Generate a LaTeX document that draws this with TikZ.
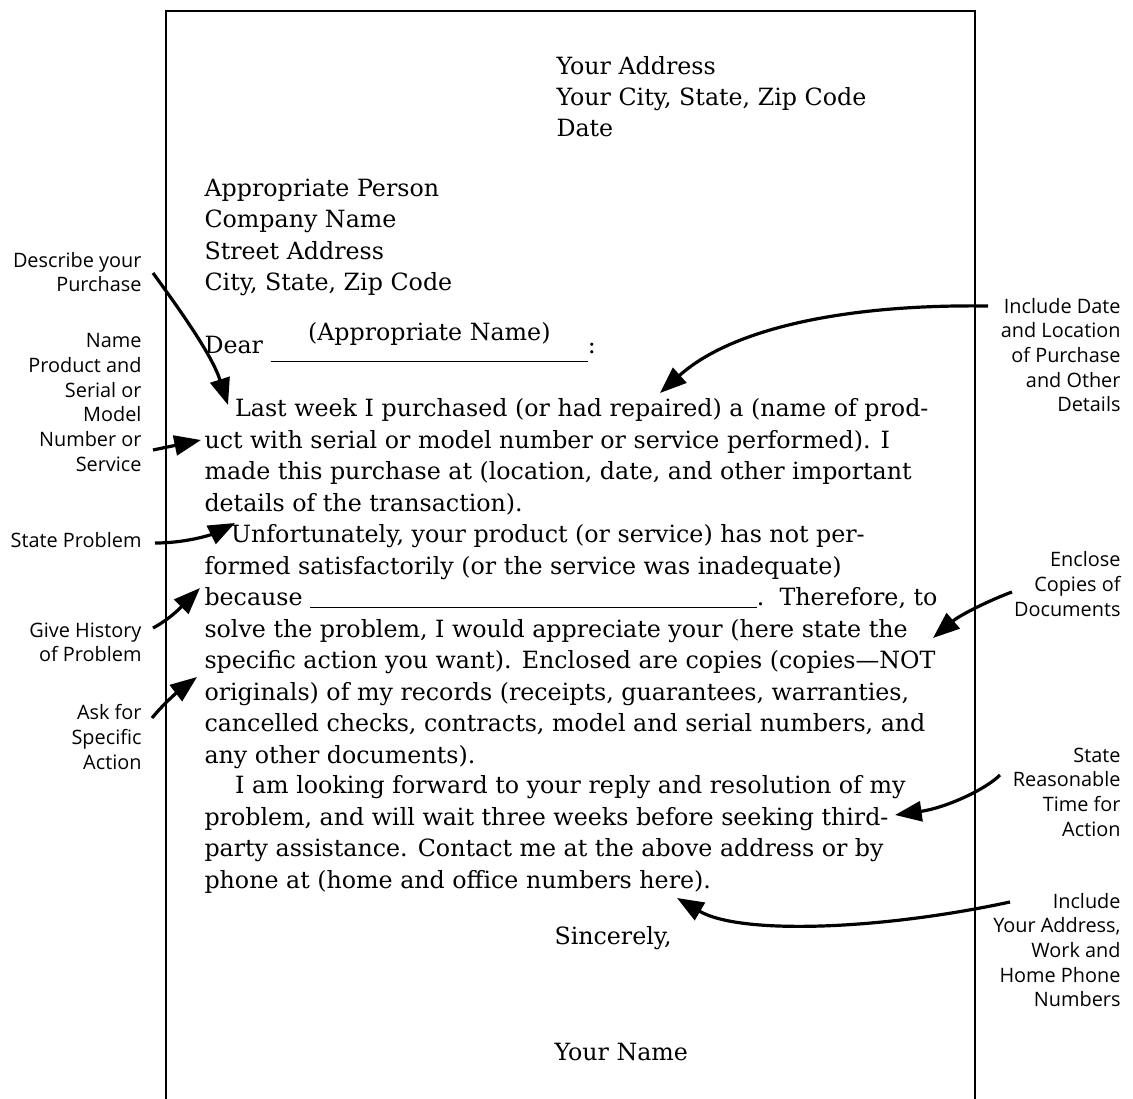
\documentclass[tikz,border=0pt]{standalone}
\usepackage{fontspec}
\setmainfont{DejaVu Serif}
\newfontfamily\notefamily{Open Sans}
\usetikzlibrary{arrows.meta,calc}

\tikzset{every picture/.style={line width=0.75pt}}
\tikzset{
  letter/.style={anchor=base west, inner sep=0pt, align=left, font=\fontsize{17.8}{23.625}\selectfont},
  note/.style={anchor=base east, inner sep=0pt, align=right, font=\notefamily\fontsize{14.9}{18.5}\selectfont},
  callout/.style={line width=2.4pt, -{Triangle[length=20pt,width=15pt]}}
}

\begin{document}
\begin{tikzpicture}[x=0.75pt,y=0.75pt,yscale=-1,xscale=1]
\useasboundingbox (0,0) rectangle (1133,1099);

%Shape: Page
\draw [line width=1.5pt] (166,1099) -- (166,11) -- (975,11) -- (975,1099);

% Text Node
\node [letter] (sender) at (556,137) {Your Address\\Your City, State, Zip Code\\Date};
% Text Node
\node [letter] (recipient) at (204,290.5) {Appropriate Person\\Company Name\\Street Address\\City, State, Zip Code};
% Text Node
\node [letter] (salutation) at (204,353) {Dear \makebox[0pt][l]{\raisebox{9.75pt}{\makebox[238pt]{(Appropriate Name)}}}\rule[-7pt]{238pt}{0.8pt}:};
% Text Node
\node [letter] (purchase) at (204,511) {\hspace*{23pt}Last week I purchased (or had repaired) a (name of prod-\\uct with serial or model number or service performed). I\\made this purchase at (location, date, and other important\\details of the transaction).};
% Text Node
\node [letter] (problem) at (204,763) {\hspace*{20pt}Unfortunately, your product (or service) has not per-\\formed satisfactorily (or the service was inadequate)\\because \rule[-2pt]{335pt}{0.9pt}.\ \ Therefore, to\\solve the problem, I would appreciate your (here state the\\specific action you want). Enclosed are copies (copies---NOT\\originals) of my records (receipts, guarantees, warranties,\\cancelled checks, contracts, model and serial numbers, and\\any other documents).};
% Text Node
\node [letter] (reply) at (204,888) {\hspace*{23pt}I am looking forward to your reply and resolution of my\\problem, and will wait three weeks before seeking third-\\party assistance. Contact me at the above address or by\\phone at (home and office numbers here).};
% Text Node
\node [letter] (closing) at (554,944.5) {Sincerely,};
% Text Node
\node [letter] (signature) at (554,1060.5) {Your Name};

% Text Node
\node [note] (describe) at (142,291.7) {Describe your\\Purchase};
% Text Node
\node [note] (nameprod) at (142,471.3) {Name\\Product and\\Serial or\\Model\\Number or\\Service};
% Text Node
\node [note] (stateprob) at (142,547) {State Problem};
% Text Node
\node [note] (history) at (142,661.7) {Give History\\of Problem};
% Text Node
\node [note] (askfor) at (142,769.3) {Ask for\\Specific\\Action};
% Text Node
\node [note] (datelocation) at (1121,411.7) {Include Date\\and Location\\of Purchase\\and Other\\Details};
% Text Node
\node [note] (enclose) at (1121,616.3) {Enclose\\Copies of\\Documents};
% Text Node
\node [note] (timeaction) at (1121,836) {State\\Reasonable\\Time for\\Action};
% Text Node
\node [note] (phones) at (1121,1006.7) {Include\\Your Address,\\Work and\\Home Phone\\Numbers};

% Arrow tips
\coordinate (purchaseTip) at (228,405);
\coordinate (productTip) at (201,440);
\coordinate (problemTip) at (235,523);
\coordinate (historyTip) at (200,588);
\coordinate (actionTip) at (197,677);
\coordinate (detailsTip) at (660,393);
\coordinate (copiesTip) at (933,638);
\coordinate (waitTip) at (895,815);
\coordinate (numbersTip) at (677,898);

%Curve Lines
\draw [callout] ($(describe.base east)+(11,-18.7)$) .. controls (180,310) and (212,355) .. (purchaseTip);
%Straight Lines
\draw [callout] ($(nameprod.base east)+(11,-21.3)$) -- (productTip);
%Curve Lines
\draw [callout] ($(stateprob.base east)+(13,-4)$) .. controls (190,543) and (215,533) .. (problemTip);
%Curve Lines
\draw [callout] ($(history.base east)+(11,-33.7)$) .. controls (172,618) and (185,603) .. (historyTip);
%Curve Lines
\draw [callout] ($(askfor.base east)+(10,-51.3)$) .. controls (165,702) and (180,690) .. (actionTip);
%Curve Lines
\draw [callout] ($(datelocation.base east)+(-133,-105.7)$) .. controls (840,304) and (730,330) .. (detailsTip);
%Curve Lines
\draw [callout] ($(enclose.base east)+(-109,-24.3)$) .. controls (990,600) and (960,615) .. (copiesTip);
%Curve Lines
\draw [callout] ($(timeaction.base east)+(-121,-61)$) .. controls (985,790) and (945,808) .. (waitTip);
%Curve Lines
\draw [callout] ($(phones.base east)+(-111,-104.7)$) .. controls (880,930) and (740,935) .. (numbersTip);

\end{tikzpicture}
\end{document}
